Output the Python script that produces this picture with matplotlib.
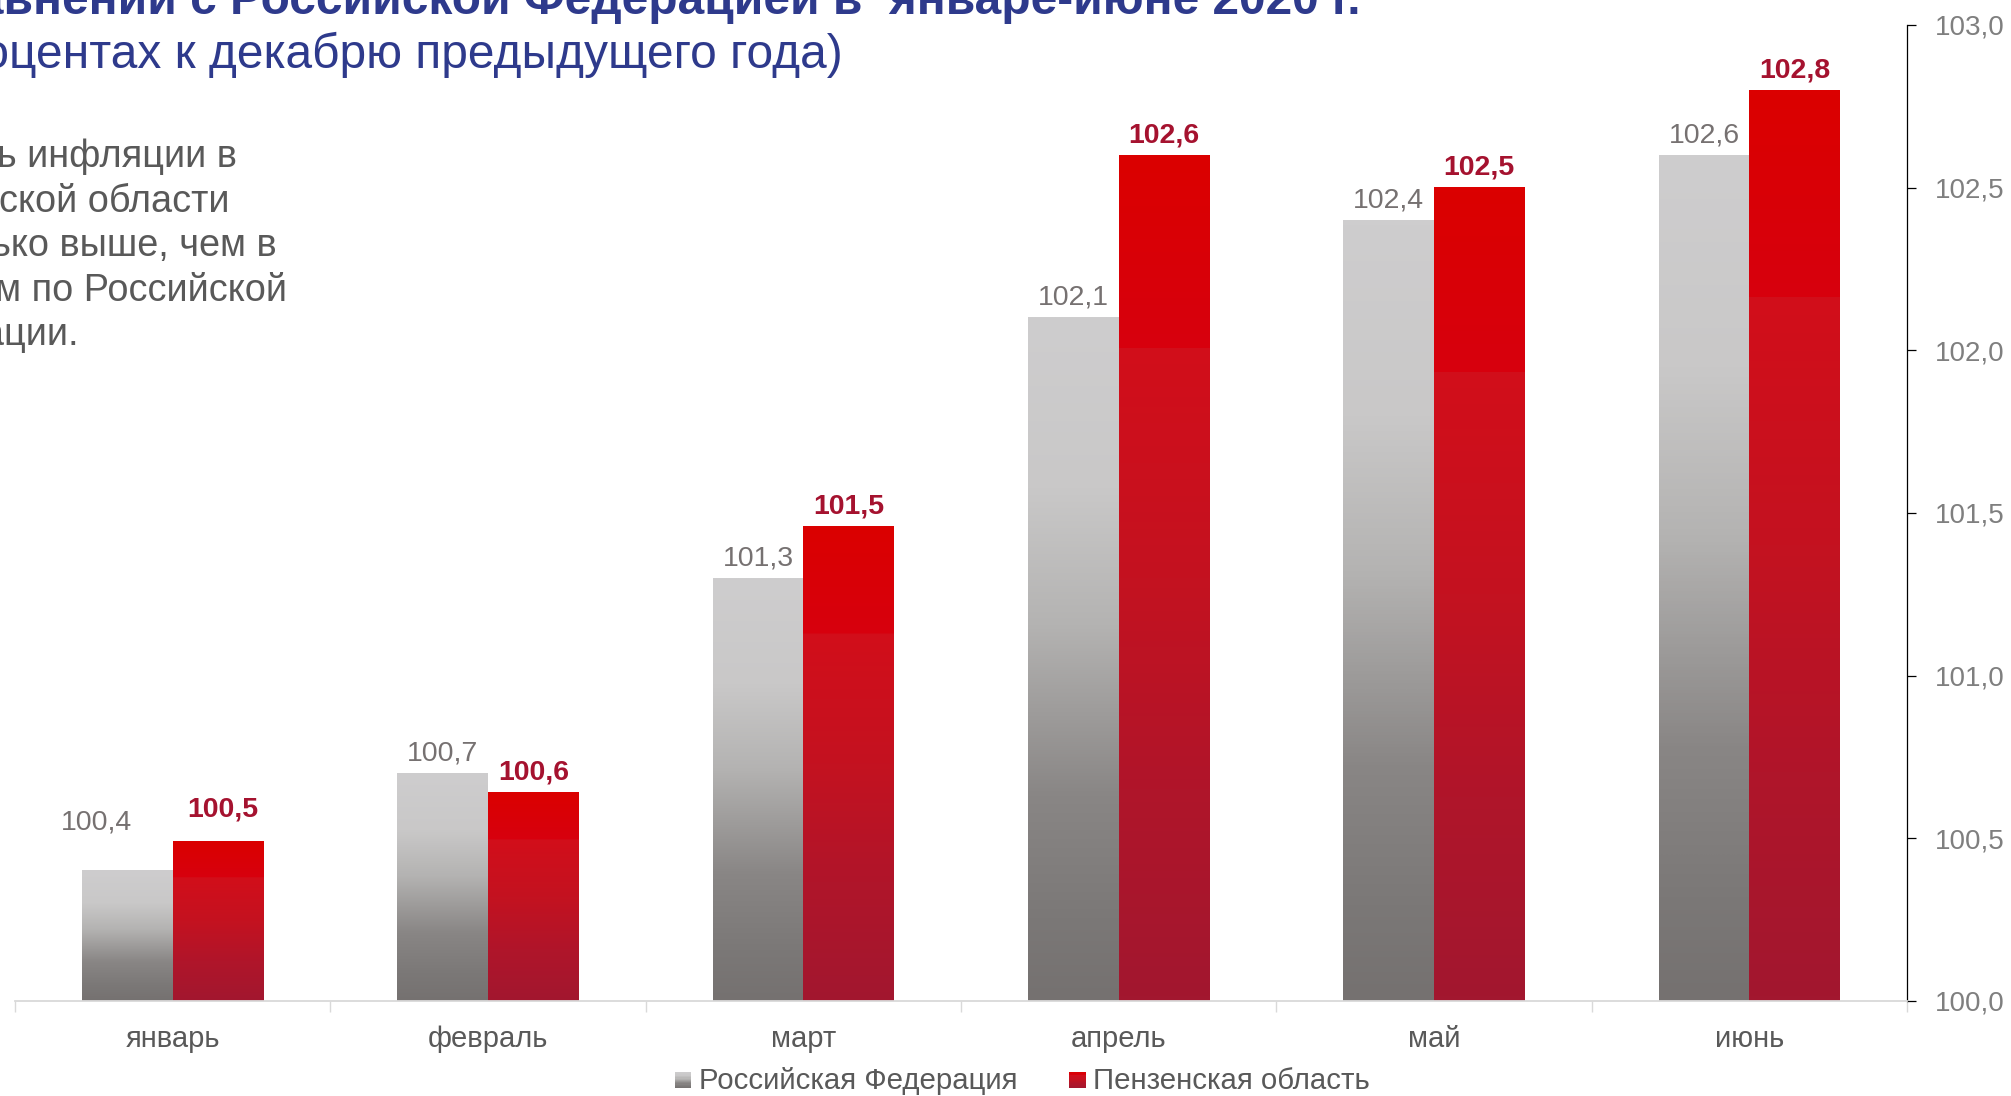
import numpy as np
import matplotlib
matplotlib.use("Agg")
import matplotlib.pyplot as plt
from matplotlib.colors import LinearSegmentedColormap
from matplotlib.patches import Rectangle
from matplotlib.legend_handler import HandlerBase
from matplotlib.ticker import FuncFormatter, FixedLocator

plt.rcParams['font.family'] = ['Liberation Sans', 'DejaVu Sans']

# ---- data ----
months = ["январь", "февраль", "март", "апрель", "май", "июнь"]
rf_values = [100.4, 100.7, 101.3, 102.1, 102.4, 102.6]
penza_values = [100.49, 100.64, 101.46, 102.6, 102.5, 102.8]
series_names = ["Российская Федерация", "Пензенская область"]
y_ticks = [100.0, 100.5, 101.0, 101.5, 102.0, 102.5, 103.0]

title_line1 = "Инфляция в Пензенской области в сравнении с Российской Федерацией в  январе-июне 2020 г."
title_line2 = "(в процентах к декабрю предыдущего года)"
body_lines = ["Уровень инфляции в", "Пензенской области", "несколько выше, чем в",
              "среднем по Российской", "Федерации."]

# ---- style ----
W, H = 2011, 1096
grey_cmap = LinearSegmentedColormap.from_list("g", [
    (0.0, "#cecdce"), (0.25, "#c9c8c8"), (0.45, "#b4b3b2"),
    (0.70, "#898685"), (0.88, "#7b7877"), (1.0, "#757170")])
red_cmap = LinearSegmentedColormap.from_list("r", [
    (0.0, "#db0000"), (0.224, "#d7000e"), (0.226, "#d20e1a"),
    (0.5, "#c41220"), (0.75, "#b0152a"), (1.0, "#a2172f")])

fig = plt.figure(figsize=(W / 100, H / 100), dpi=100)
ax = fig.add_axes([15 / W, 1 - 1001 / H, (1907 - 15) / W, (1001 - 25) / H])

x = np.arange(len(months))
bw = 0.287
ymin, ymax = 100.0, 103.0

bars_rf = ax.bar(x - bw / 2, rf_values, bw, facecolor="none", edgecolor="none")
bars_pz = ax.bar(x + bw / 2, penza_values, bw, facecolor="none", edgecolor="none")

grad = np.linspace(0, 1, 256).reshape(-1, 1)
for bars, cmap in ((bars_rf, grey_cmap), (bars_pz, red_cmap)):
    for b in bars:
        x0, w, h = b.get_x(), b.get_width(), b.get_height()
        ax.imshow(grad, cmap=cmap, origin="upper", aspect="auto",
                  extent=(x0, x0 + w, ymin, h), interpolation="bilinear", zorder=2)

ax.set_xlim(-0.5, len(months) - 0.5)
ax.set_ylim(ymin, ymax)

fmt = lambda v: f"{v:.1f}".replace(".", ",")

# data labels (offsets in pixels)
grey_offsets = {0: (-31, 48)}
red_offsets = {0: (5, 32)}
for i, b in enumerate(bars_rf):
    dx, dy = grey_offsets.get(i, (0, 20))
    ax.annotate(fmt(rf_values[i]), (b.get_x() + b.get_width() / 2, b.get_height()),
                xytext=(dx, dy), textcoords="offset pixels", ha="center", va="center",
                fontsize=20.5, color="#767171", zorder=5)
for i, b in enumerate(bars_pz):
    dx, dy = red_offsets.get(i, (0, 20))
    ax.annotate(fmt(penza_values[i]), (b.get_x() + b.get_width() / 2, b.get_height()),
                xytext=(dx, dy), textcoords="offset pixels", ha="center", va="center",
                fontsize=20.5, color="#a5122f", fontweight="bold", zorder=5)

# spines
for s in ("left", "top"):
    ax.spines[s].set_visible(False)
ax.spines["right"].set_color("black")
ax.spines["right"].set_linewidth(0.9)
ax.spines["bottom"].set_color("#d9d9d9")
ax.spines["bottom"].set_linewidth(1.3)

# y axis on right
ax.yaxis.tick_right()
ax.yaxis.set_major_locator(FixedLocator(y_ticks))
ax.yaxis.set_major_formatter(FuncFormatter(lambda v, p: fmt(v)))
ax.tick_params(axis="y", which="major", direction="out", length=6.5, width=0.9,
               color="black", labelcolor="#7f7f7f", labelsize=20, pad=13.5)

# x axis
ax.set_xticks(x)
ax.set_xticklabels(months)
ax.set_xticks(np.arange(-0.5, len(months)), minor=True)
ax.tick_params(axis="x", which="major", length=0, labelsize=21,
               labelcolor="#595959", pad=17)
ax.tick_params(axis="x", which="minor", length=8, width=1.0, color="#d9d9d9",
               direction="out")


# legend with gradient squares
class GradHandler(HandlerBase):
    def __init__(self, cmap):
        super().__init__()
        self.cmap = cmap

    def create_artists(self, legend, orig_handle, xdescent, ydescent, width,
                       height, fontsize, trans):
        side = 0.56 * fontsize
        x0 = -xdescent + (width - side)
        y0 = -ydescent + (height - side) / 2 - 0.04 * fontsize
        n = 14
        arts = []
        for k in range(n):
            c = self.cmap((k + 0.5) / n)
            arts.append(Rectangle((x0, y0 + side * (n - 1 - k) / n), side, side / n + 0.05,
                                  facecolor=c, edgecolor="none", transform=trans))
        return arts


h1 = Rectangle((0, 0), 1, 1)
h2 = Rectangle((0, 0), 1, 1)
leg = fig.legend([h1, h2], series_names, loc="center", bbox_to_anchor=(1022 / W, 1 - 1081 / H),
                 ncol=2, frameon=False, fontsize=21.2, handlelength=0.58, handleheight=0.7,
                 handletextpad=0.25, columnspacing=1.74, labelcolor="#595959",
                 handler_map={h1: GradHandler(grey_cmap), h2: GradHandler(red_cmap)})

# titles (clipped at the left / top edge as in the reference)
fig.text(1360 / W, 1 - 14 / H, title_line1, ha="right", va="baseline",
         fontsize=34.5, fontweight="bold", color="#2e3a8c")
fig.text(843 / W, 1 - 68 / H, title_line2, ha="right", va="baseline",
         fontsize=34.5, color="#2e3a8c")

# body text, left aligned; first line ends at x=237 px
renderer = fig.canvas.get_renderer()
tmp = fig.text(0, 0.5, body_lines[0], fontsize=27.3)
wpx = tmp.get_window_extent(renderer).width
tmp.remove()
left_px = 237 - wpx
for k, line in enumerate(body_lines):
    fig.text(left_px / W, 1 - (167 + 44.6 * k) / H, line, ha="left", va="baseline",
             fontsize=27.3, color="#595959")

fig.savefig("out.png", dpi=100)
